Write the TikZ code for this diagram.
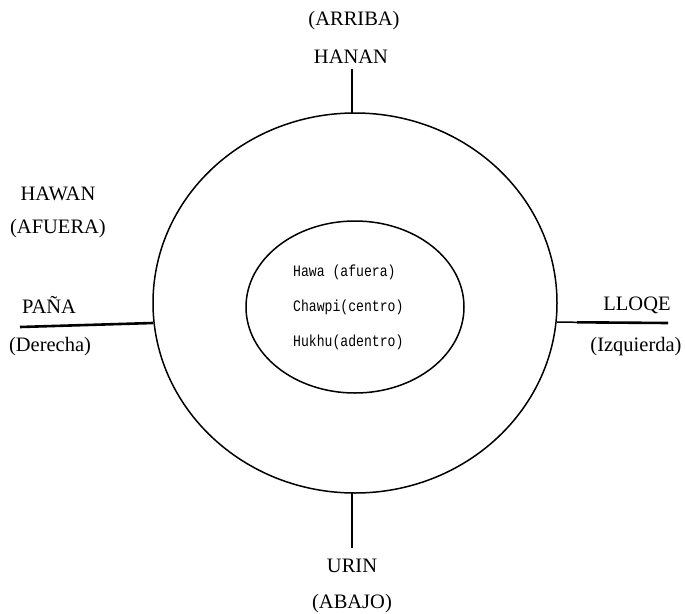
\documentclass[tikz,border=0pt]{standalone}
\usepackage{fontspec}
\setmainfont{Liberation Serif}
\newfontfamily\monof{Liberation Mono}
\begin{document}
\begin{tikzpicture}[x=1pt,y=-1pt,
  lbl/.style={anchor=base,inner sep=0pt,font=\fontsize{20.5}{24}\selectfont},
  inner/.style={anchor=west,inner sep=0pt,xscale=0.82,font=\monof\fontsize{16}{19}\selectfont},
  tick/.style={line width=2.6pt},
  ring/.style={line width=1.5pt}]
\useasboundingbox (0,0) rectangle (685,613);
% circles
\draw[ring] (355,303) ellipse [x radius=202, y radius=190];
\draw[ring] (355,307) ellipse [x radius=109, y radius=86];
% points on the outer circle
\coordinate (ctop) at (352,113);
\coordinate (cbot) at (352,493);
\coordinate (cleft) at (153,323);
\coordinate (cright) at (557,322);
\coordinate (etop) at (352,69);
\coordinate (ebot) at (352,548);
\coordinate (eleft) at (20,327);
\coordinate (emid) at (577,322.3);
\coordinate (eright) at (668,323);
% ticks
\draw[tick] (ctop) -- (etop);
\draw[tick] (cbot) -- (ebot);
\draw[tick] (cleft) -- (eleft);
\draw[line width=1.5pt] (cright) -- (emid);
\draw[tick] (emid) -- (eright);
% labels
\node[lbl] (arriba) at (354,25) {(ARRIBA)};
\node[lbl] (hanan) at (351,63) {HANAN};
\node[lbl] (urin) at (352,572) {URIN};
\node[lbl] (abajo) at (352,608.5) {(ABAJO)};
\node[lbl] (hawan) at (58,200) {HAWAN};
\node[lbl] (afuera) at (58,233.5) {(AFUERA)};
\node[lbl] (pana) at (49,313) {PAÑA};
\node[lbl] (derecha) at (50,351) {(Derecha)};
\node[lbl] (lloqe) at (637,310) {LLOQE};
\node[lbl] (izq) at (636,351.5) {(Izquierda)};
% inner texts
\node[inner] (hawa) at (293,272) {Hawa (afuera)};
\node[inner] (chawpi) at (293,307) {Chawpi(centro)};
\node[inner] (hukhu) at (293,342) {Hukhu(adentro)};
\end{tikzpicture}
\end{document}
